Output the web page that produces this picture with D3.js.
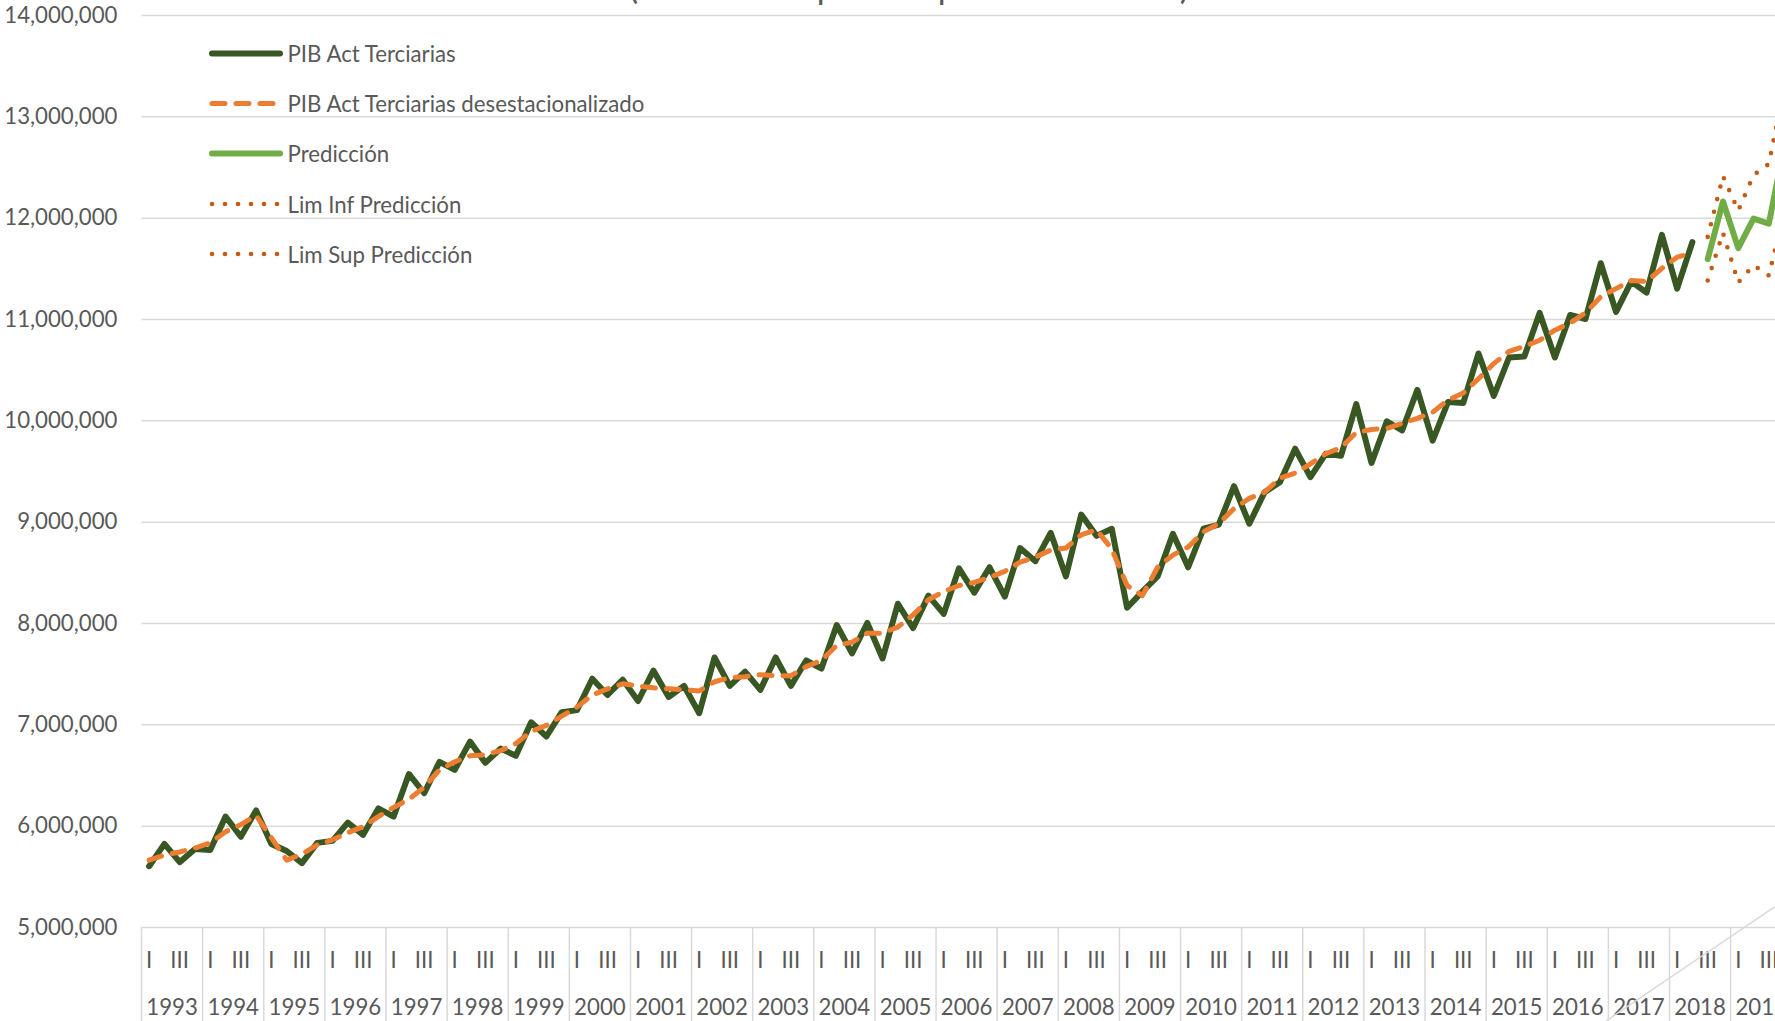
<!DOCTYPE html>
<html><head><meta charset="utf-8">
<script src="https://cdn.jsdelivr.net/npm/d3@7"></script>
<style>html,body{margin:0;padding:0;background:#fff;overflow:hidden}</style>
</head><body><svg id="c" width="1775" height="1021"></svg>
<script>
// ---------------- data ----------------
const years = [1993,1994,1995,1996,1997,1998,1999,2000,2001,2002,2003,2004,2005,2006,2007,2008,2009,2010,2011,2012,2013,2014,2015,2016,2017,2018,2019];
const quarterNames = ["I","II","III","IV"];
const quarterLabelsShown = ["I","III"];
const yTicks = [5000000,6000000,7000000,8000000,9000000,10000000,11000000,12000000,13000000,14000000];
const titleText = "PIB Actividades Terciarias (millones de pesos a precios de 2013)";
const seriesNames = ["PIB Act Terciarias","PIB Act Terciarias desestacionalizado","Predicción","Lim Inf Predicción","Lim Sup Predicción"];

// PIB Act Terciarias, 1993-I .. 2018-II
const pibTerciarias = [
 5600000,5820000,5640000,5770000, 5760000,6090000,5890000,6150000,
 5820000,5750000,5630000,5830000, 5850000,6030000,5910000,6170000,
 6090000,6510000,6320000,6630000, 6550000,6830000,6620000,6760000,
 6690000,7020000,6880000,7120000, 7140000,7450000,7290000,7440000,
 7230000,7530000,7270000,7380000, 7110000,7660000,7380000,7520000,
 7340000,7660000,7380000,7630000, 7550000,7980000,7700000,8000000,
 7650000,8190000,7950000,8270000, 8090000,8540000,8300000,8550000,
 8260000,8740000,8610000,8890000, 8460000,9070000,8860000,8930000,
 8150000,8310000,8460000,8880000, 8550000,8930000,8970000,9350000,
 8980000,9290000,9390000,9720000, 9440000,9670000,9650000,10160000,
 9580000,9990000,9900000,10300000, 9800000,10180000,10170000,10660000,
 10240000,10620000,10630000,11060000, 10620000,11040000,11000000,11550000,
 11070000,11370000,11260000,11830000, 11300000,11760000
];
// PIB Act Terciarias desestacionalizado, 1993-I .. 2018-II
const pibDesest = [
 5660000,5710000,5740000,5780000, 5830000,5940000,6010000,6100000,
 5880000,5660000,5720000,5810000, 5860000,5930000,5990000,6090000,
 6180000,6260000,6380000,6550000, 6630000,6690000,6700000,6740000,
 6810000,6930000,6990000,7080000, 7170000,7290000,7350000,7400000,
 7380000,7360000,7350000,7340000, 7330000,7420000,7460000,7470000,
 7490000,7480000,7480000,7570000, 7630000,7780000,7810000,7900000,
 7900000,7960000,8080000,8230000, 8310000,8370000,8400000,8450000,
 8510000,8600000,8650000,8720000, 8740000,8870000,8920000,8730000,
 8370000,8270000,8550000,8670000, 8750000,8900000,8980000,9130000,
 9230000,9290000,9430000,9480000, 9570000,9670000,9730000,9880000,
 9910000,9920000,9970000,10020000, 10080000,10200000,10270000,10410000,
 10560000,10680000,10730000,10790000, 10890000,10960000,11060000,11220000,
 11300000,11380000,11370000,11500000, 11610000,11650000
];
// Forecast, 2018-III .. 2019-IV
const predStartYear = 2018, predStartQuarter = "III";
const prediccion = [11590000,12160000,11700000,11990000,11940000,12700000];
const limInf     = [11380000,11850000,11360000,11530000,11430000,12050000];
const limSup     = [11810000,12410000,12070000,12420000,12530000,13280000];

// ---------------- layout ----------------
const svg = d3.select("#c");
const FONT = "Lato, 'Open Sans', sans-serif";
const TXT = "#595959";
const GRID = "#d9d9d9";

function fitSize(str, target){
  const t = svg.append("text").attr("font-family",FONT).attr("font-size",100).text(str);
  const w = t.node().getComputedTextLength(); t.remove();
  return 100*target/w;
}
const fs = fitSize("PIB Act Terciarias desestacionalizado", 357);
const fsTitle = fitSize("(millones de pesos a precios de 2013)", 560);

const cats = [];
years.forEach(yr => quarterNames.forEach(q => cats.push(yr+"-"+q)));
const plotL = 141.5, step = 15.28;
const plotR = plotL + cats.length*step;
const x = d3.scaleBand().domain(cats).range([plotL, plotR]).padding(0);
const bw = x.bandwidth();
const cx = c => x(c) + bw/2;
const y = d3.scaleLinear().domain([5000000,14000000]).range([927,15]);

// title (mostly cropped at the top)
svg.append("text").attr("x",1189).attr("y",-1).attr("text-anchor","end")
  .attr("font-family",FONT).attr("font-size",fsTitle).attr("fill",TXT).text(titleText);

// gridlines + y labels
const yAxis = d3.axisLeft(y).tickValues(yTicks).tickFormat(d3.format(",")).tickSize(-(plotR-plotL)).tickPadding(24);
const gy = svg.append("g").attr("transform",`translate(${plotL},0)`).call(yAxis);
gy.select(".domain").remove();
gy.selectAll(".tick line").attr("stroke",GRID).attr("stroke-width",1.5);
gy.selectAll(".tick text").attr("fill",TXT).attr("font-family",FONT).attr("font-size",fs);

// category axis: year separators, quarter labels, year labels
const gx = svg.append("g");
const sepX = years.map(yr => x(yr+"-I")).concat([plotR]);
gx.selectAll("line.sep").data(sepX).join("line").attr("class","sep")
  .attr("x1",d=>d).attr("x2",d=>d).attr("y1",y(5000000)).attr("y2",1021+5)
  .attr("stroke",GRID).attr("stroke-width",1.5);
const qLabels = cats.filter(c => quarterLabelsShown.includes(c.split("-")[1]));
gx.selectAll("text.q").data(qLabels).join("text").attr("class","q")
  .attr("x",d=>cx(d)).attr("y",959).attr("text-anchor","middle").attr("dominant-baseline","central")
  .attr("font-family",FONT).attr("font-size",fs).attr("fill",TXT).text(d=>d.split("-")[1]);
gx.selectAll("text.yr").data(years).join("text").attr("class","yr")
  .attr("x",d=>x(d+"-I")+2*bw).attr("y",1006).attr("text-anchor","middle").attr("dominant-baseline","central")
  .attr("font-family",FONT).attr("font-size",fs).attr("fill",TXT).text(d=>d);

// stray diagonal connector visible in the screenshot
svg.append("line").attr("x1",1775).attr("y1",906.7).attr("x2",1606).attr("y2",1021)
  .attr("stroke",GRID).attr("stroke-width",1.5);

// ---------------- series ----------------
const line = d3.line().x(d=>cx(d.c)).y(d=>y(d.v));
const hist = pibTerciarias.map((v,i)=>({c:cats[i],v}));
const desest = pibDesest.map((v,i)=>({c:cats[i],v}));
const p0 = cats.indexOf(predStartYear+"-"+predStartQuarter);
const toPts = arr => arr.map((v,i)=>({c:cats[p0+i],v}));

const styles = [
  {stroke:"#385723", w:6, dash:null},
  {stroke:"#ED7D31", w:5, dash:"13 11"},
  {stroke:"#70AD47", w:6, dash:null},
  {stroke:"#C55A11", w:4.6, dash:"0 13"},
  {stroke:"#C55A11", w:4.6, dash:"0 13"}
];
const seriesData = [hist, desest, toPts(prediccion), toPts(limInf), toPts(limSup)];
seriesData.forEach((d,k)=>{
  const s = styles[k];
  svg.append("path").datum(d).attr("d",line).attr("fill","none")
    .attr("stroke",s.stroke).attr("stroke-width",s.w)
    .attr("stroke-linejoin","round").attr("stroke-linecap","round")
    .attr("stroke-dasharray",s.dash);
});

// ---------------- legend ----------------
const legY = [53.5, 103.5, 153.5, 204, 254];
const lg = svg.append("g");
seriesNames.forEach((n,k)=>{
  const s = styles[k];
  lg.append("line").attr("x1",212).attr("x2",280).attr("y1",legY[k]).attr("y2",legY[k])
    .attr("stroke",s.stroke).attr("stroke-width",s.w).attr("stroke-linecap","round")
    .attr("stroke-dasharray",s.dash);
  lg.append("text").attr("x",287.5).attr("y",legY[k]).attr("dominant-baseline","central")
    .attr("font-family",FONT).attr("font-size",fs).attr("fill",TXT).text(n);
});
</script></body></html>
